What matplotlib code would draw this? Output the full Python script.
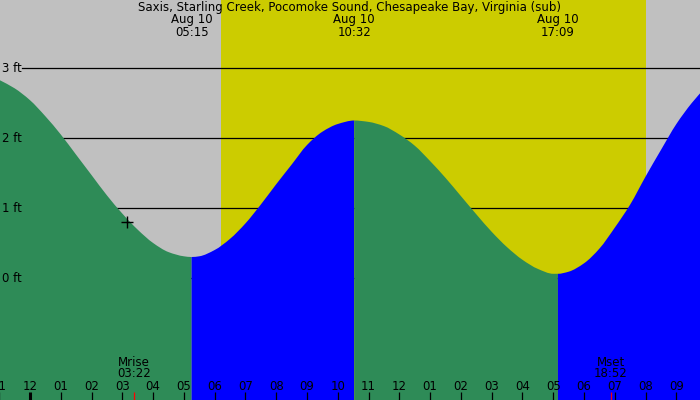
import matplotlib
matplotlib.use('Agg')
import matplotlib.pyplot as plt
from matplotlib.path import Path
from matplotlib.patches import PathPatch
import numpy as np

# tide heights (ft), hours from midnight Aug 10
tide_hours = [-1.0, -0.5, 0.0, 0.5, 1.0, 1.5, 2.0, 2.5, 3.0, 3.5, 4.0, 4.5, 5.0, 5.25,
              5.5, 6.0, 6.5, 7.0, 7.5, 8.0, 8.5, 9.0, 9.5, 10.0, 10.533,
              11.0, 11.5, 12.0, 12.5, 13.0, 13.5, 14.0, 14.5, 15.0, 15.5, 16.0, 16.5, 17.0, 17.15,
              17.5, 18.0, 18.5, 19.0, 19.5, 20.0, 20.5, 21.0, 21.5, 22.0]
tide_ft = [2.83, 2.71, 2.54, 2.31, 2.05, 1.76, 1.47, 1.18, 0.92, 0.69, 0.50, 0.37, 0.31, 0.30,
           0.31, 0.40, 0.56, 0.78, 1.05, 1.34, 1.62, 1.90, 2.09, 2.20, 2.25,
           2.23, 2.17, 2.05, 1.89, 1.67, 1.43, 1.17, 0.91, 0.66, 0.44, 0.26, 0.13, 0.06, 0.06,
           0.09, 0.21, 0.42, 0.72, 1.05, 1.45, 1.83, 2.20, 2.50, 2.75]

# low / high tide times shown at the top
extreme_hours = [5.25, 10.533, 17.15]
extreme_labels = ['05:15', '10:32', '17:09']
extreme_date = 'Aug 10'

sunrise = 6.2
sunset = 20.0
moon_hours = [3.367, 18.867]
moon_names = ['Mrise', 'Mset']
moon_labels = ['03:22', '18:52']
now_hour, now_ft = 3.16, 0.80

ft_levels = [0, 1, 2, 3]
hour_ticks = list(range(-1, 22))

title = 'Saxis, Starling Creek, Pocomoke Sound, Chesapeake Bay, Virginia (sub)'

x_min, x_max = -30 / 30.78, 670 / 30.78
y_min, y_max = -122 / 70, 278 / 70

grey = '#c0c0c0'
yellow = '#cccc00'
green = '#2e8b57'
blue = '#0000ff'
fs = 8.5

fig = plt.figure(figsize=(7, 4), dpi=100, facecolor=grey)
ax = fig.add_axes([0, 0, 1, 1])
ax.set_xlim(x_min, x_max)
ax.set_ylim(y_min, y_max)
ax.axis('off')

ax.axvspan(sunrise, sunset, color=yellow, lw=0, zorder=0)

for y in ft_levels:
    ax.axhline(y, xmin=22 / 700, xmax=1, color='black', lw=0.9, zorder=1)
    ax.text(2 / 700, y, f'{y} ft', transform=ax.get_yaxis_transform(),
            ha='left', va='center', fontsize=fs, zorder=5)

# smooth (monotone cubic) outline through the read points
t = np.array(tide_hours)
h = np.array(tide_ft)
sec = np.diff(h) / np.diff(t)
slope = np.zeros_like(h)
slope[0], slope[-1] = sec[0], sec[-1]
for i in range(1, len(h) - 1):
    if sec[i - 1] * sec[i] > 0:
        slope[i] = 2 / (1 / sec[i - 1] + 1 / sec[i])

# falling tide green, rising tide blue
idx = [0] + [int(np.argmin(abs(t - e))) for e in extreme_hours] + [len(t) - 1]
colors = [green, blue, green, blue]
for k in range(len(idx) - 1):
    a, b = idx[k], idx[k + 1]
    verts = [(t[a], y_min), (t[a], h[a])]
    codes = [Path.MOVETO, Path.LINETO]
    for i in range(a, b):
        d = (t[i + 1] - t[i]) / 3
        verts += [(t[i] + d, h[i] + slope[i] * d),
                  (t[i + 1] - d, h[i + 1] - slope[i + 1] * d),
                  (t[i + 1], h[i + 1])]
        codes += [Path.CURVE4] * 3
    verts += [(t[b], y_min), (t[a], y_min)]
    codes += [Path.LINETO, Path.CLOSEPOLY]
    ax.add_patch(PathPatch(Path(verts, codes), facecolor=colors[k], lw=0, zorder=2))

ax.plot([now_hour], [now_ft], marker='+', color='black', ms=9, mew=1, zorder=5)

# header
ax.text(0.5, 1 - 8 / 400, title, transform=ax.transAxes, ha='center', va='center', fontsize=fs)
for eh, el in zip(extreme_hours, extreme_labels):
    ax.text(eh, 1 - 20 / 400, extreme_date, transform=ax.get_xaxis_transform(),
            ha='center', va='center', fontsize=fs)
    ax.text(eh, 1 - 32 / 400, el, transform=ax.get_xaxis_transform(),
            ha='center', va='center', fontsize=fs)

# hour ticks along the bottom
xt = ax.get_xaxis_transform()
for hr in hour_ticks:
    lab = (hr % 12) or 12
    ax.text(hr, 1 - 386 / 400, f'{lab:02d}', transform=xt, ha='center', va='center', fontsize=fs, zorder=5)
    ax.plot([hr, hr], [0, 8.5 / 400], transform=xt, color='black',
            lw=2.2 if hr % 24 == 0 else 0.9, solid_capstyle='butt', zorder=5)

for mh, mn, ml in zip(moon_hours, moon_names, moon_labels):
    ax.plot([mh, mh], [0, 8.5 / 400], transform=xt, color='red', lw=0.9, solid_capstyle='butt', zorder=5)
    ax.text(mh, 1 - 362 / 400, mn, transform=xt, ha='center', va='center', fontsize=fs, zorder=5)
    ax.text(mh, 1 - 373.5 / 400, ml, transform=xt, ha='center', va='center', fontsize=fs, zorder=5)

plt.savefig('out.png', dpi=100, facecolor=grey)
